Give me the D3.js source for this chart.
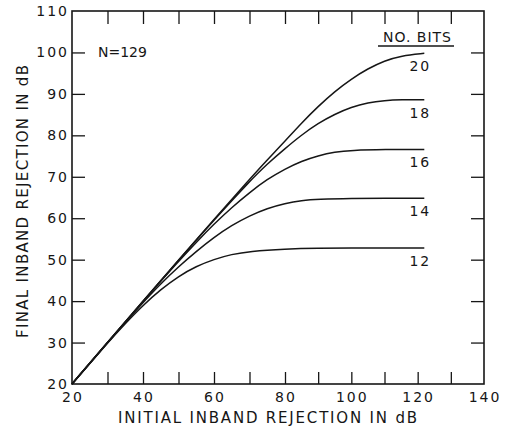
<!DOCTYPE html>
<html>
<head>
<meta charset="utf-8">
<script src="https://cdn.jsdelivr.net/npm/d3@7"></script>
<style>
  body { margin: 0; background: #fff; }
  svg { display: block; }
  text { font-family: "DejaVu Sans", sans-serif; fill: #161616; }
  .frame { fill: none; stroke: #161616; stroke-width: 1.6; }
  .tick line { stroke: #161616; stroke-width: 1.3; }
  .curve { fill: none; stroke: #161616; stroke-width: 1.5; }
</style>
</head>
<body>
<svg id="chart" width="506" height="431"></svg>
<script>
// values: [initial rejection dB, final rejection dB]
const bits = [20, 18, 16, 14, 12];

const curve20 = [[20,20],[30,30],[40,40],[50,49.9],[60,59.7],[70,69.4],[75,74.1],[80,78.6],[85,83],[90,87],[95,90.6],[100,93.6],[105,96.1],[110,98],[115,99.2],[122,99.8]];
const curve18 = [[20,20],[30,30],[40,40],[50,49.9],[60,59.6],[70,68.9],[75,73.1],[80,76.8],[85,80.1],[90,82.9],[95,85.1],[100,86.8],[105,87.9],[110,88.4],[115,88.6],[122,88.6]];
const curve16 = [[20,20],[30,30],[40,40],[50,49.6],[55,54.2],[60,58.6],[65,62.6],[70,66.2],[75,69.4],[80,71.9],[85,73.8],[90,75.1],[95,76],[100,76.4],[110,76.6],[122,76.6]];
const curve14 = [[20,20],[30,30],[40,39.7],[45,44.2],[50,48.3],[55,52],[60,55.4],[65,58.3],[70,60.6],[75,62.4],[80,63.6],[85,64.3],[90,64.6],[100,64.8],[110,64.8],[122,64.8]];
const curve12 = [[20,20],[30,29.9],[35,34.6],[40,39],[45,42.8],[50,46],[55,48.4],[60,50.1],[65,51.3],[70,52],[80,52.6],[90,52.8],[100,52.8],[110,52.8],[122,52.8]];

const curves = [curve20, curve18, curve16, curve14, curve12];

const xLabelTicks = [20, 40, 60, 80, 100, 120, 140];
const xMarkTicks = [30, 40, 50, 60, 70, 80, 90, 100, 110, 120, 130];
const yLabelTicks = [20, 30, 40, 50, 60, 70, 80, 90, 100, 110];
const yMarkTicks = [30, 40, 50, 60, 70, 80, 90, 100];

const svg = d3.select('#chart');

// the scanned axis is slightly stretched on the left half, so the x scale bends at 80
const x = d3.scaleLinear()
    .domain([20, 80, 140])
    .range([72, 285, 484]);

const y = d3.scaleLinear()
    .domain([20, 110])
    .range([384, 11]);

// inward tick marks on all four sides
svg.append('g')
    .attr('transform', 'translate(0,384)')
    .call(d3.axisBottom(x).tickValues(xMarkTicks).tickSizeInner(-12).tickSizeOuter(0).tickFormat(''));
svg.append('g')
    .attr('transform', 'translate(0,11)')
    .call(d3.axisTop(x).tickValues(xMarkTicks).tickSizeInner(-13).tickSizeOuter(0).tickFormat(''));
svg.append('g')
    .attr('transform', 'translate(72,0)')
    .call(d3.axisLeft(y).tickValues(yMarkTicks).tickSizeInner(-13).tickSizeOuter(0).tickFormat(''));
svg.append('g')
    .attr('transform', 'translate(484,0)')
    .call(d3.axisRight(y).tickValues(yMarkTicks).tickSizeInner(-13).tickSizeOuter(0).tickFormat(''));
svg.selectAll('.domain').remove();

// frame round the plot
svg.append('rect')
    .attr('class', 'frame')
    .attr('x', x(20))
    .attr('y', y(110))
    .attr('width', x(140) - x(20))
    .attr('height', y(20) - y(110));

// tick labels
svg.append('g')
    .selectAll('text')
    .data(xLabelTicks)
    .join('text')
        .attr('x', d => x(d) + 1)
        .attr('y', 402)
        .attr('text-anchor', 'middle')
        .style('font-size', '14px')
        .style('letter-spacing', '2px')
        .text(d => d);

svg.append('g')
    .selectAll('text')
    .data(yLabelTicks)
    .join('text')
        .attr('x', 69)
        .attr('y', d => y(d))
        .attr('dy', '0.36em')
        .attr('text-anchor', 'end')
        .style('font-size', '14px')
        .style('letter-spacing', '2px')
        .text(d => d);

// axis titles
svg.append('text')
    .attr('x', 267.5)
    .attr('y', 423)
    .attr('text-anchor', 'middle')
    .attr('textLength', 299)
    .attr('lengthAdjust', 'spacing')
    .style('font-size', '15px')
    .text('INITIAL INBAND REJECTION IN dB');

svg.append('text')
    .attr('transform', 'translate(28,201.5) rotate(-90)')
    .attr('text-anchor', 'middle')
    .attr('textLength', 273)
    .attr('lengthAdjust', 'spacing')
    .style('font-size', '15px')
    .text('FINAL INBAND REJECTION IN dB');

// curves, smoothed like the hand drawn originals
const line = d3.line()
    .x(d => x(d[0]))
    .y(d => y(d[1]))
    .curve(d3.curveBasis);

svg.append('g')
    .selectAll('path')
    .data(curves)
    .join('path')
        .attr('class', 'curve')
        .attr('d', line);

// curve labels sit just under the end of each curve
svg.append('g')
    .selectAll('text')
    .data(curves)
    .join('text')
        .attr('x', d => x(d[d.length - 1][0]) - 4)
        .attr('y', d => y(d[d.length - 1][1]) + 18)
        .attr('text-anchor', 'middle')
        .style('font-size', '14px')
        .style('letter-spacing', '2px')
        .text((d, i) => bits[i]);

// legend heading and annotation
svg.append('text')
    .attr('x', 383)
    .attr('y', 42)
    .style('font-size', '14px')
    .style('letter-spacing', '1px')
    .text('NO. BITS');
svg.append('line')
    .attr('x1', 378).attr('x2', 454)
    .attr('y1', 46).attr('y2', 46)
    .attr('stroke', '#161616')
    .attr('stroke-width', 1.5);

svg.append('text')
    .attr('x', 98)
    .attr('y', 52)
    .attr('dy', '0.36em')
    .style('font-size', '14px')
    .text('N=129');
</script>
</body>
</html>
